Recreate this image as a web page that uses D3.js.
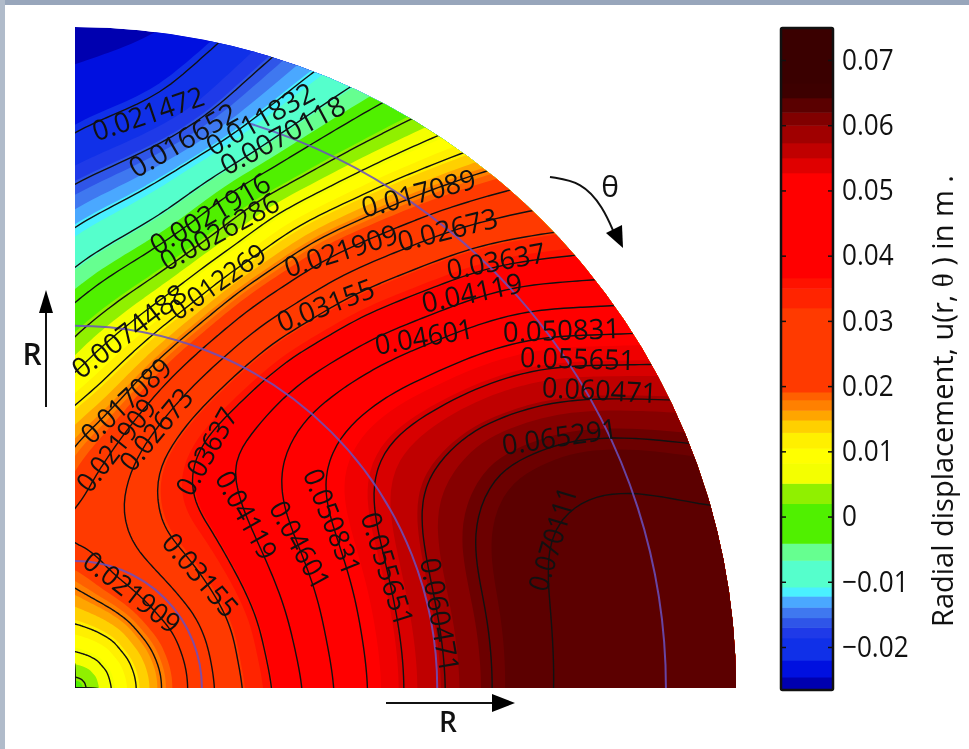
<!DOCTYPE html>
<html>
<head>
<meta charset="utf-8">
<script src="https://cdn.jsdelivr.net/npm/d3@7"></script>
<style>
  html, body { margin: 0; padding: 0; background: #fff; }
  svg { display: block; filter: blur(.5px); }
  text { font-family: "Open Sans", sans-serif; fill: #111; }
</style>
</head>
<body>
<div id="chart"></div>
<script>
// radial stations (fraction of outer radius) and ray angles (degrees from the top, clockwise)
const radii = [0, .06, .12, .18, .24, .30, .36, .42, .48, .54, .60, .66, .72, .78, .84, .90, .96, 1.02];
const thetas = [0, 10, 20, 30, 40, 50, 60, 70, 80, 90];

// u(r, theta) in m
const u0  = [.0005, .0082, .0150, .0191, .0240, .0203, .0177, .0133, .0070, .0020, -.0039, -.0091, -.0136, -.0180, -.0218, -.0236, -.0250, -.0262];
const u10 = [.0005, .0085, .0155, .0209, .0240, .0250, .0222, .0187, .0149, .0099, .0045, -.0022, -.0081, -.0131, -.0180, -.0220, -.0237, -.0255];
const u20 = [.0005, .0085, .0158, .0222, .0269, .0295, .0318, .0290, .0256, .0215, .0165, .0123, .0065, .0020, -.0042, -.0088, -.0125, -.0150];
const u30 = [.0005, .0085, .0160, .0229, .0288, .0340, .0373, .0398, .0378, .0353, .0326, .0278, .0238, .0193, .0138, .0085, .0037, -.0004];
const u40 = [.0005, .0083, .0160, .0235, .0297, .0351, .0400, .0432, .0453, .0462, .0447, .0426, .0397, .0355, .0317, .0276, .0228, .0185];
const u50 = [.0005, .0085, .0163, .0236, .0300, .0364, .0417, .0468, .0508, .0533, .0548, .0545, .0528, .0514, .0490, .0458, .0412, .0365];
const u60 = [.0005, .0082, .0162, .0231, .0301, .0371, .0429, .0481, .0528, .0571, .0606, .0625, .0642, .0635, .0622, .0598, .0571, .0545];
const u70 = [.0005, .0083, .0160, .0233, .0301, .0373, .0435, .0486, .0539, .0587, .0635, .0668, .0692, .0710, .0718, .0712, .0695, .0675];
const u80 = [.0005, .0083, .0158, .0231, .0307, .0374, .0437, .0492, .0543, .0592, .0635, .0670, .0701, .0718, .0727, .0733, .0737, .0740];
const u90 = [.0005, .0081, .0158, .0231, .0302, .0367, .0430, .0488, .0543, .0591, .0633, .0672, .0702, .0718, .0728, .0735, .0741, .0745];

// contour lines drawn over the fill
const contourLevels = [-.021472, -.016652, -.011832, -.0070118, -.0021916, .0026286, .0074488, .012269, .017089, .021909,
  .02673, .03155, .03637, .04119, .04601, .050831, .055651, .060471, .065291, .070111];

// filled bands: lower edge of each band and its colour in the plot and in the colour bar
const bandEdges = [-.0266, -.0246, -.022, -.0186, -.017, -.0155, -.0139, -.0122, -.0108, -.0067, -.0041, .002, .0051, .0082, .0105, .0129,
  .0148, .0163, .0179, .0191, .032, .035, .0366, .0527, .055, .0573, .06, .062, .0642, .0665];
const bandColors = ["#0000b0", "#0010e0", "#1030e8", "#1f3ae8", "#2f55e8", "#3f78f0", "#4aa8ff", "#4af0ff", "#55ffcc", "#66ff90", "#50f000", "#90f000",
  "#f4ff00", "#ffff00", "#fff000", "#ffd000", "#ffa500", "#ff8000", "#ff6000", "#ff3a00", "#ff2400", "#ff1200", "#ff0000", "#f00000", "#d80000", "#bf0000", "#a00000", "#860000", "#6c0000", "#5c0000"];
const barColors = ["#0000b0", "#0010e0", "#1030e8", "#1f3ae8", "#2f55e8", "#3f78f0", "#4aa8ff", "#4af0ff", "#55ffcc", "#66ff90", "#50f000", "#90f000",
  "#f4ff00", "#ffff00", "#fff000", "#ffd000", "#ffa500", "#ff8000", "#ff6000", "#ff3a00", "#ff2400", "#ff1200", "#ff0000", "#e00000", "#c00000", "#a00000", "#800000", "#5a0000", "#3d0000", "#3a0000"];

const barTicks = [-.02, -.01, 0, .01, .02, .03, .04, .05, .06, .07];
const pitchCircles = [.192, .548, .894];
const pitchStarts = [0, 0, 17];

const labelTexts = ["0.021472", "0.016652", "0.011832", "0.0070118", "0.0021916", "0.0026286", "0.0074488", "0.012269",
  "0.021909", "0.03155", "0.017089", "0.02673", "0.03637", "0.04119", "0.04601", "0.050831", "0.055651", "0.060471", "0.065291", "0.070111",
  "0.060471", "0.055651", "0.050831", "0.04601", "0.04119", "0.03637", "0.03155", "0.021909", "0.02673", "0.021909", "0.017089"];

// where each contour label sits: start and end of the text in page pixels
const labelSpots = [[93,132,203,95],[131,170,235,110],[208,148,312,90],[222,167,343,103],[152,247,268,180],[162,263,277,200],[75,372,183,290],[172,313,263,250],
  [285,268,397,233],[278,323,373,287],[362,208,475,178],[398,242,497,217],[447,270,545,252],[422,303,522,282],[375,345,473,328],[503,332,620,328],[520,357,635,360],[542,387,657,393],[502,445,617,428],[537,590,568,488],
  [430,558,450,672],[370,513,405,625],[312,470,353,573],[277,503,323,587],[223,473,270,557],[183,493,230,410],[168,537,233,613],[87,557,177,627],[125,467,187,392],[82,488,150,402],[85,438,167,363]];

const width = 969, height = 749;
const cx = 75, cy = 688, outerR = 661;

const svg = d3.select("#chart").append("svg").attr("width", width).attr("height", height);

// window frame left in the screenshot
svg.append("rect").attr("width", width).attr("height", 5).attr("fill", "#98a6bb");
svg.append("rect").attr("width", 5).attr("height", height).attr("fill", "#b0bbca");

// the rays are resampled with d3's spline so the drawn contours come out round
const columns = [u0, u10, u20, u30, u40, u50, u60, u70, u80, u90];
const ny = 86, fineTheta = 91;
const rowSplines = d3.range(ny).map(k => {
  const t = k / (ny - 1);
  return d3.interpolateBasis(columns.map(c => d3.interpolateBasis(c)(t)));
});
const nx = fineTheta + 2;
const values = [];
rowSplines.forEach(f => {
  for (let i = 0; i < nx; i++) values.push(f(Math.min(1, Math.max(0, (i - 1) / (fineTheta - 1)))));
});

const rScale = d3.scaleLinear().domain([0, 1]).range([0, outerR]);
const rowScale = d3.scaleLinear().domain([.5, ny - .5]).range([radii[0], radii[radii.length - 1]]).clamp(true);
const colScale = d3.scaleLinear().domain([1.5, nx - 1.5]).range([thetas[0], thetas[thetas.length - 1]]);

const ringPath = d3.line();

function contourPath(geo) {
  let out = "";
  geo.coordinates.forEach(poly => poly.forEach(ring => {
    const pts = ring.map(p =>
      d3.pointRadial(colScale(p[0]) * Math.PI / 180, rScale(rowScale(p[1]))));
    out += ringPath(pts) + "Z";
  }));
  return out;
}

const contourGen = d3.contours().size([nx, ny]);
const quarter = d3.arc()({innerRadius: 0, outerRadius: outerR, startAngle: 0, endAngle: Math.PI / 2});

svg.append("defs").append("clipPath").attr("id", "quarter").append("path").attr("d", quarter);

const plot = svg.append("g")
  .attr("transform", "translate(" + cx + "," + cy + ")")
  .attr("clip-path", "url(#quarter)");

// filled bands, lowest first
plot.append("path").attr("d", quarter).attr("fill", bandColors[0]);
bandEdges.slice(1).forEach((edge, i) => {
  plot.append("path")
    .attr("d", contourPath(contourGen.contour(values, edge)))
    .attr("fill", bandColors[i + 1])
    .attr("fill-rule", "evenodd");
});

// contour lines
contourLevels.forEach(level => {
  plot.append("path")
    .attr("d", contourPath(contourGen.contour(values, level)))
    .attr("fill", "none")
    .attr("stroke", "#111")
    .attr("stroke-width", 1.4);
});

// circles of the section
pitchCircles.forEach((r, i) => {
  plot.append("path")
    .attr("d", d3.arc()({innerRadius: rScale(r), outerRadius: rScale(r), startAngle: pitchStarts[i] * Math.PI / 180, endAngle: Math.PI / 2}))
    .attr("fill", "none")
    .attr("stroke", "#6a50c0")
    .attr("stroke-opacity", .85)
    .attr("stroke-width", 2);
});

// contour labels
svg.append("g").selectAll("text")
  .data(labelTexts)
  .join("text")
  .attr("transform", (d, i) => {
    const s = labelSpots[i];
    const a = Math.atan2(s[3] - s[1], s[2] - s[0]) * 180 / Math.PI;
    return "translate(" + (s[0] + s[2]) / 2 + "," + (s[1] + s[3]) / 2 + ") rotate(" + a + ")";
  })
  .attr("text-anchor", "middle")
  .attr("dy", ".36em")
  .attr("font-size", 28)
  .attr("textLength", (d, i) => {
    const s = labelSpots[i];
    return Math.hypot(s[2] - s[0], s[3] - s[1]);
  })
  .attr("lengthAdjust", "spacingAndGlyphs")
  .text(d => d);

// colour bar
const barX = 781, barW = 52;
const barY = d3.scaleLinear().domain([-.02, .07]).range([647, 60]);
const barTop = .0749;
const bar = svg.append("g");
bar.selectAll("rect")
  .data(bandEdges)
  .join("rect")
  .attr("x", barX)
  .attr("width", barW)
  .attr("y", (d, i) => barY(i + 1 < bandEdges.length ? bandEdges[i + 1] : barTop))
  .attr("height", (d, i) => barY(d) - barY(i + 1 < bandEdges.length ? bandEdges[i + 1] : barTop) + .5)
  .attr("fill", (d, i) => barColors[i]);
bar.append("rect")
  .attr("x", barX).attr("y", barY(barTop))
  .attr("width", barW).attr("height", barY(bandEdges[0]) - barY(barTop))
  .attr("fill", "none").attr("stroke", "#111").attr("stroke-width", 2.5).attr("rx", 1.5);

const fmtTick = d => d === 0 ? "0" : (d < 0 ? "\u2212" : "") + Math.abs(d).toFixed(2);
const axisR = svg.append("g").attr("transform", "translate(" + (barX + barW) + ",0)")
  .call(d3.axisRight(barY).tickValues(barTicks).tickSize(-5).tickPadding(9).tickFormat(fmtTick));
const axisL = svg.append("g").attr("transform", "translate(" + barX + ",0)")
  .call(d3.axisLeft(barY).tickValues(barTicks).tickSize(-5).tickFormat(""));
axisR.select(".domain").remove();
axisL.select(".domain").remove();
axisR.selectAll("line").attr("stroke", "#111").attr("stroke-width", 1.5);
axisL.selectAll("line").attr("stroke", "#111").attr("stroke-width", 1.5);
axisR.selectAll("text")
  .attr("font-size", 29)
  .attr("font-family", "'Open Sans', sans-serif")
  .attr("fill", "#111")
  .attr("lengthAdjust", "spacingAndGlyphs")
  .attr("textLength", function() { return this.getComputedTextLength() * .9; });

// colour bar title
const title = svg.append("text")
  .attr("transform", "translate(953,627) rotate(-90)")
  .attr("font-size", 30)
  .attr("textLength", 452)
  .attr("lengthAdjust", "spacingAndGlyphs");
title.append("tspan").text("Radial displacement, u(r, ");
title.append("tspan").attr("font-family", "'Liberation Serif', serif").text("\u03b8");
title.append("tspan").text(" ) in m .");

// arrows and R / theta marks
function arrow(x1, y1, x2, y2, hl, hw) {
  const a = Math.atan2(y2 - y1, x2 - x1);
  const g = svg.append("g").attr("transform", "translate(" + x2 + "," + y2 + ") rotate(" + a * 180 / Math.PI + ")");
  g.append("line").attr("x1", -Math.hypot(x2 - x1, y2 - y1)).attr("x2", -hl)
    .attr("stroke", "#111").attr("stroke-width", 2);
  g.append("path").attr("d", "M0,0L" + (-hl) + "," + (-hw) + "L" + (-hl) + "," + hw + "Z").attr("fill", "#000");
}
arrow(386, 703, 515, 703, 23, 9);
arrow(46, 407, 46, 290, 23, 7);

svg.append("text").attr("x", 448).attr("y", 732).attr("text-anchor", "middle").attr("font-size", 28).attr("font-weight", 600).text("R");
svg.append("text").attr("x", 32).attr("y", 365).attr("text-anchor", "middle").attr("font-size", 30).attr("font-weight", 600).text("R");

svg.append("path")
  .attr("d", d3.line().curve(d3.curveBasis)([[550, 177], [582, 182], [603, 207], [615, 235]]))
  .attr("fill", "none").attr("stroke", "#111").attr("stroke-width", 2);
svg.append("path").attr("d", "M623,248L606,233L622,225Z").attr("fill", "#000");
svg.append("text").attr("x", 610).attr("y", 197).attr("text-anchor", "middle")
  .attr("font-family", "'Liberation Serif', serif").attr("font-size", 30).text("\u03b8");
</script>
</body>
</html>
